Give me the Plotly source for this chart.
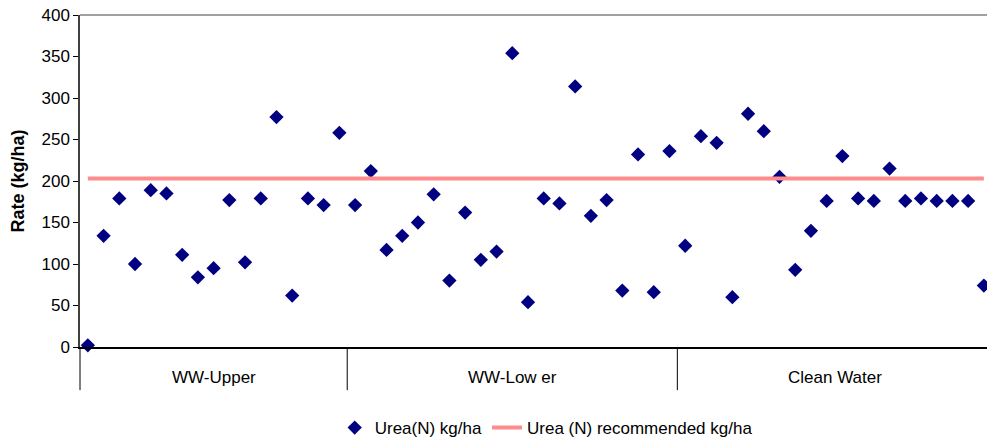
import plotly.graph_objects as go

# ---- data ----
groups = ["WW-Upper", "WW-Low er", "Clean Water"]
group_counts = [17, 21, 20]
urea = [
    # WW-Upper
    2, 134, 179, 100, 189, 185, 111, 84, 95, 177, 102, 179, 277, 62, 179, 171, 258,
    # WW-Lower
    171, 212, 117, 134, 150, 184, 80, 162, 105, 115, 354, 54, 179, 173, 314, 158, 177, 68, 232, 66, 236,
    # Clean Water
    122, 254, 246, 60, 281, 260, 205, 93, 140, 176, 230, 179, 176, 215, 176, 179, 176, 176, 176, 74,
]
recommended_value = 203
y_ticks = [0, 50, 100, 150, 200, 250, 300, 350, 400]

n = len(urea)
x_idx = list(range(n))
recommended = [recommended_value] * n

FONT = "Liberation Sans, Arial, sans-serif"
FS = 17

fig = go.Figure()
fig.add_trace(go.Scatter(
    x=x_idx, y=urea, mode="markers", name="Urea(N) kg/ha",
    marker=dict(symbol="diamond", size=11, color="#000080"),
    cliponaxis=False,
))
fig.add_trace(go.Scatter(
    x=x_idx, y=recommended, mode="lines", name="Urea (N) recommended kg/ha",
    line=dict(color="#FF8C8C", width=4),
))

shapes = []
annotations = []
# top border
shapes.append(dict(type="line", xref="paper", yref="paper", x0=0, x1=1, y0=1, y1=1,
                   line=dict(color="#808080", width=1.5)))
# left axis extension below plot
shapes.append(dict(type="line", xref="paper", yref="paper", x0=0, x1=0, y0=-0.13, y1=0,
                   line=dict(color="#000000", width=1)))
start = 0
for i, (g, c) in enumerate(zip(groups, group_counts)):
    end = start + c
    center = (start + end - 1) / 2
    annotations.append(dict(x=center, y=-0.092, xref="x", yref="paper", text=g,
                            showarrow=False, font=dict(family=FONT, size=FS, color="#000000"),
                            yanchor="middle"))
    if i < len(groups) - 1:
        sep = end - 0.5
        shapes.append(dict(type="line", xref="x", yref="paper", x0=sep, x1=sep, y0=-0.13, y1=0,
                           line=dict(color="#000000", width=1)))
    start = end

fig.update_layout(
    width=987, height=441,
    margin=dict(l=80, r=0, t=15, b=94, autoexpand=False),
    paper_bgcolor="white", plot_bgcolor="white",
    font=dict(family=FONT, size=FS, color="#000000"),
    showlegend=True,
    legend=dict(orientation="h", x=0.514, xanchor="center", y=-0.244, yanchor="middle",
                font=dict(family=FONT, size=FS)),
    shapes=shapes, annotations=annotations,
    xaxis=dict(range=[-0.5, 57.2], showgrid=False, zeroline=False, showticklabels=False,
               ticks="", showline=True, linecolor="#000000", linewidth=1.5),
    yaxis=dict(range=[0, 400], tickvals=y_ticks, showgrid=False, zeroline=False,
               showline=True, linecolor="#404040", linewidth=1.5, ticks="outside",
               ticklen=5, tickcolor="#000000",
               title=dict(text="<b>Rate (kg/ha)</b>", font=dict(family=FONT, size=18), standoff=12),
               tickfont=dict(family=FONT, size=FS)),
)

fig.write_html(
    "out.html",
    config={"displayModeBar": False},
    post_script="document.body.style.margin='0';document.body.style.overflow='hidden';",
)
